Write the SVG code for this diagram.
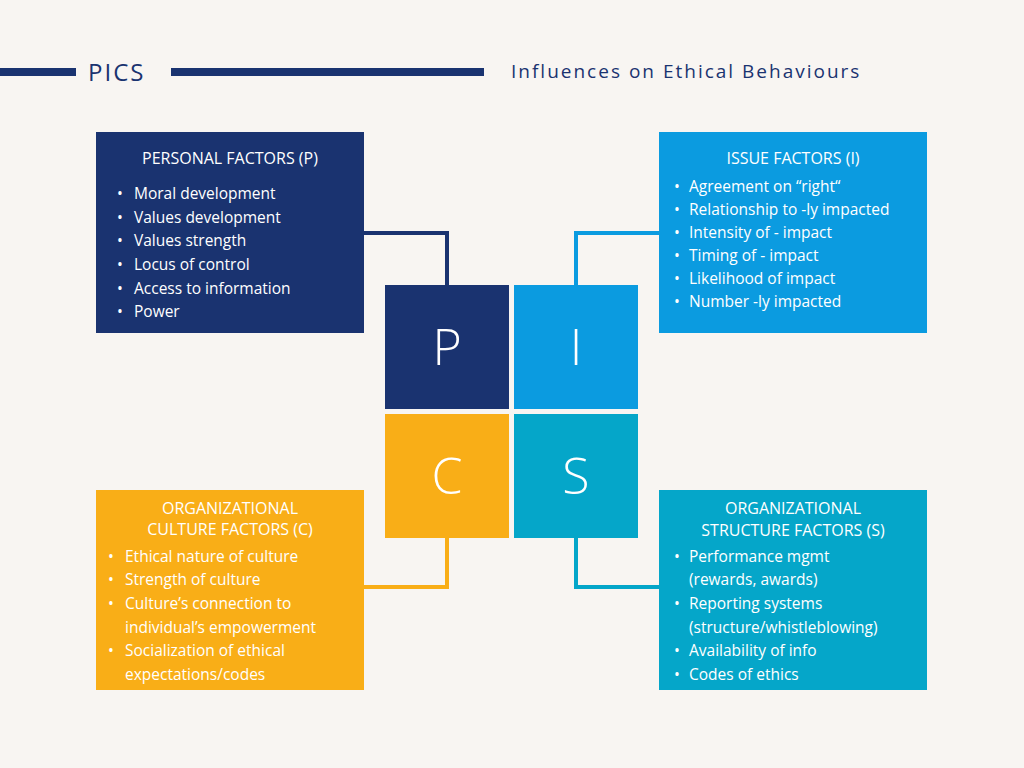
<svg xmlns="http://www.w3.org/2000/svg" width="1024" height="768" viewBox="0 0 1024 768">
<style>
text{font-family:"Open Sans","DejaVu Sans",sans-serif;}
.t{fill:#fff;font-size:16px;text-anchor:middle;}
.b{fill:#fff;font-size:15.5px;}
.L{fill:#fff;font-size:50px;text-anchor:middle;font-weight:300;}
.c{fill:none;stroke-width:4;}
</style>
<rect width="1024" height="768" fill="#F8F5F2"/>
<g id="header">
<rect x="0" y="68" width="76" height="8" fill="#1A3370"/>
<rect x="171" y="68" width="313" height="8" fill="#1A3370"/>
<text x="88" y="81" font-size="24" fill="#1A3370" letter-spacing="2">PICS</text>
<text x="511" y="78" font-size="19" fill="#1A3370" letter-spacing="2">Influences on Ethical Behaviours</text>
</g>
<g id="connectors">
<polyline class="c" stroke="#1A3370" points="364,233 447,233 447,285"/>
<polyline class="c" stroke="#0B9BE0" points="659,233 576,233 576,285"/>
<polyline class="c" stroke="#F9AE17" points="447,538 447,587 364,587"/>
<polyline class="c" stroke="#05A6C9" points="576,538 576,587 659,587"/>
</g>
<g id="center">
<rect x="385" y="285" width="124" height="124" fill="#1A3370"/><text class="L" x="447" y="365">P</text>
<rect x="514" y="285" width="124" height="124" fill="#0B9BE0"/><text class="L" x="576" y="365">I</text>
<rect x="385" y="414" width="124" height="124" fill="#F9AE17"/><text class="L" x="447" y="494">C</text>
<rect x="514" y="414" width="124" height="124" fill="#05A6C9"/><text class="L" x="576" y="494">S</text>
</g>
<g id="personal">
<rect x="96" y="132" width="268" height="201" fill="#1A3370"/>
<text class="t" x="230" y="164">PERSONAL FACTORS (P)</text>
<text class="b" x="117" y="199">•</text><text class="b" x="134" y="199">Moral development</text>
<text class="b" x="117" y="223">•</text><text class="b" x="134" y="223">Values development</text>
<text class="b" x="117" y="246">•</text><text class="b" x="134" y="246">Values strength</text>
<text class="b" x="117" y="270">•</text><text class="b" x="134" y="270">Locus of control</text>
<text class="b" x="117" y="294">•</text><text class="b" x="134" y="294">Access to information</text>
<text class="b" x="117" y="317">•</text><text class="b" x="134" y="317">Power</text>
</g>
<g id="issue">
<rect x="659" y="132" width="268" height="201" fill="#0B9BE0"/>
<text class="t" x="793" y="164">ISSUE FACTORS (I)</text>
<text class="b" x="674" y="192">•</text><text class="b" x="689" y="192">Agreement on “right“</text>
<text class="b" x="674" y="215">•</text><text class="b" x="689" y="215">Relationship to -ly impacted</text>
<text class="b" x="674" y="238">•</text><text class="b" x="689" y="238">Intensity of  - impact</text>
<text class="b" x="674" y="261">•</text><text class="b" x="689" y="261">Timing of - impact</text>
<text class="b" x="674" y="284">•</text><text class="b" x="689" y="284">Likelihood of impact</text>
<text class="b" x="674" y="307">•</text><text class="b" x="689" y="307">Number -ly impacted</text>
</g>
<g id="culture">
<rect x="96" y="490" width="268" height="200" fill="#F9AE17"/>
<text class="t" x="230" y="514">ORGANIZATIONAL</text>
<text class="t" x="230" y="535">CULTURE FACTORS (C)</text>
<text class="b" x="108" y="562">•</text><text class="b" x="125" y="562">Ethical nature of culture</text>
<text class="b" x="108" y="585">•</text><text class="b" x="125" y="585">Strength of culture</text>
<text class="b" x="108" y="609">•</text><text class="b" x="125" y="609">Culture’s connection to</text>
<text class="b" x="125" y="633">individual’s empowerment</text>
<text class="b" x="108" y="656">•</text><text class="b" x="125" y="656">Socialization of ethical</text>
<text class="b" x="125" y="680">expectations/codes</text>
</g>
<g id="structure">
<rect x="659" y="490" width="268" height="200" fill="#05A6C9"/>
<text class="t" x="793" y="514">ORGANIZATIONAL</text>
<text class="t" x="793" y="536">STRUCTURE FACTORS (S)</text>
<text class="b" x="674" y="562">•</text><text class="b" x="689" y="562">Performance mgmt</text>
<text class="b" x="689" y="585">(rewards, awards)</text>
<text class="b" x="674" y="609">•</text><text class="b" x="689" y="609">Reporting systems</text>
<text class="b" x="689" y="633">(structure/whistleblowing)</text>
<text class="b" x="674" y="656">•</text><text class="b" x="689" y="656">Availability of info</text>
<text class="b" x="674" y="680">•</text><text class="b" x="689" y="680">Codes of ethics</text>
</g>
</svg>
